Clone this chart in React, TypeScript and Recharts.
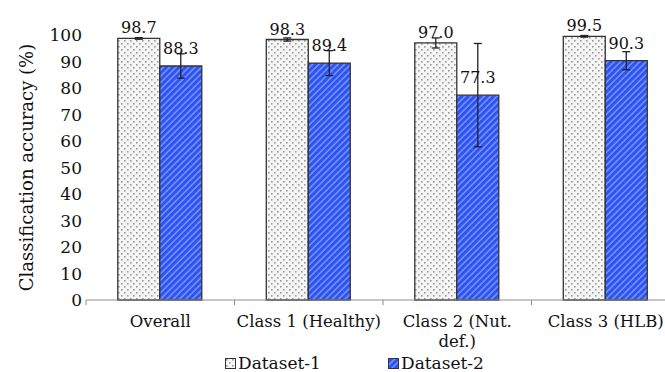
import { BarChart, Bar, XAxis, YAxis, ErrorBar, LabelList, Legend } from 'recharts'

const categories = ['Overall', 'Class 1 (Healthy)', 'Class 2 (Nut.\ndef.)', 'Class 3 (HLB)']
const dataset1 = [98.7, 98.3, 97.0, 99.5]
const dataset1Err = [0.3, 0.6, 1.9, 0.3]
const dataset2 = [88.3, 89.4, 77.3, 90.3]
const dataset2Err = [4.6, 4.7, 19.5, 3.4]
const yTicks = [0, 10, 20, 30, 40, 50, 60, 70, 80, 90, 100]
const seriesNames = ['Dataset-1', 'Dataset-2']

const FONT = '"DejaVu Serif", serif'
const CHART_W = 700
const CHART_H = 372
const MARGIN = { top: 35, right: 20, bottom: 0, left: 8 }
const Y_AXIS_W = 78
const PLOT_W = CHART_W - MARGIN.left - MARGIN.right - Y_AXIS_W
const HALF_BAND = PLOT_W / categories.length / 2

const rows = categories.map((name, i) => ({
  name,
  d1: dataset1[i],
  d1Err: dataset1Err[i],
  d2: dataset2[i],
  d2Err: dataset2Err[i],
}))

function XTick(props: any) {
  const { x, y, payload } = props
  const lines = String(payload.value).split('\n')
  return (
    <g>
      <line x1={x - HALF_BAND} y1={y} x2={x - HALF_BAND} y2={y + 5} stroke="#8c8c8c" />
      {lines.map((l, i) => (
        <text
          key={i}
          x={x}
          y={y + 27 + i * 20}
          textAnchor="middle"
          fill="#111"
          fontSize={16.5}
          fontFamily={FONT}
        >
          {l}
        </text>
      ))}
    </g>
  )
}

function LegendContent() {
  const items = [
    { left: 225, fill: 'url(#dots)' },
    { left: 388, fill: 'url(#hatch)' },
  ]
  return (
    <div style={{ position: 'relative', height: 20, width: CHART_W }}>
      {items.map((it, i) => (
        <div
          key={i}
          style={{
            position: 'absolute',
            left: it.left,
            top: 1,
            display: 'flex',
            alignItems: 'center',
            fontFamily: FONT,
            fontSize: 17,
            color: '#111',
            lineHeight: '20px',
          }}
        >
          <svg width={11} height={11} style={{ marginRight: 2 }}>
            <rect x={0.5} y={0.5} width={10} height={10} fill={it.fill} stroke="#333" />
          </svg>
          {seriesNames[i]}
        </div>
      ))}
    </div>
  )
}

export default function App() {
  return (
    <div
      style={{
        position: 'absolute',
        left: 0,
        top: 0,
        width: 665,
        height: 372,
        overflow: 'hidden',
        background: '#fff',
      }}
    >
      <BarChart
        width={CHART_W}
        height={CHART_H}
        data={rows}
        margin={MARGIN}
        barCategoryGap="21.4%"
        barGap={0}
      >
        <defs>
          <pattern id="dots" width={6} height={6} patternUnits="userSpaceOnUse">
            <rect width={6} height={6} fill="#f5f5f5" />
            <rect x={1} y={1} width={1.6} height={1.6} fill="#9a9a9a" />
            <rect x={4} y={4} width={1.6} height={1.6} fill="#9a9a9a" />
          </pattern>
          <pattern
            id="hatch"
            width={4.5}
            height={4.5}
            patternUnits="userSpaceOnUse"
            patternTransform="rotate(45)"
          >
            <rect width={4.5} height={4.5} fill="#2d52f2" />
            <line x1={1} y1={0} x2={1} y2={4.5} stroke="#86a0ff" strokeWidth={1.3} />
          </pattern>
        </defs>
        <XAxis
          dataKey="name"
          height={52}
          tick={<XTick />}
          tickLine={false}
          tickSize={0}
          tickMargin={0}
          interval={0}
          axisLine={{ stroke: '#8c8c8c' }}
        />
        <YAxis
          width={Y_AXIS_W}
          domain={[0, 100]}
          ticks={yTicks}
          interval={0}
          axisLine={false}
          tickLine={false}
          tickSize={0}
          tickMargin={4}
          tick={{ fill: '#111', fontSize: 17, fontFamily: FONT }}
          label={{
            content: ({ viewBox }: any) => (
              <text
                x={26}
                y={viewBox.y + viewBox.height / 2}
                transform={`rotate(-90, 26, ${viewBox.y + viewBox.height / 2})`}
                textAnchor="middle"
                dominantBaseline="central"
                fill="#111"
                fontSize={18}
                fontFamily={FONT}
              >
                Classification accuracy (%)
              </text>
            ),
          }}
        />
        <Legend
          verticalAlign="bottom"
          height={20}
          content={<LegendContent />}
          wrapperStyle={{ left: 0, width: CHART_W }}
        />
        <Bar
          dataKey="d1"
          name={seriesNames[0]}
          fill="url(#dots)"
          stroke="#333"
          strokeWidth={1.3}
          isAnimationActive={false}
        >
          <ErrorBar dataKey="d1Err" width={4} stroke="#222" strokeWidth={1.3} />
          <LabelList
            dataKey="d1"
            position="top"
            offset={5}
            formatter={(v: any) => Number(v).toFixed(1)}
            fill="#111"
            fontSize={16}
            fontFamily={FONT}
          />
        </Bar>
        <Bar
          dataKey="d2"
          name={seriesNames[1]}
          fill="url(#hatch)"
          stroke="#333"
          strokeWidth={1.3}
          isAnimationActive={false}
        >
          <ErrorBar dataKey="d2Err" width={4} stroke="#222" strokeWidth={1.3} />
          <LabelList
            dataKey="d2"
            position="top"
            offset={12}
            formatter={(v: any) => Number(v).toFixed(1)}
            fill="#111"
            fontSize={16}
            fontFamily={FONT}
          />
        </Bar>
      </BarChart>
    </div>
  )
}
